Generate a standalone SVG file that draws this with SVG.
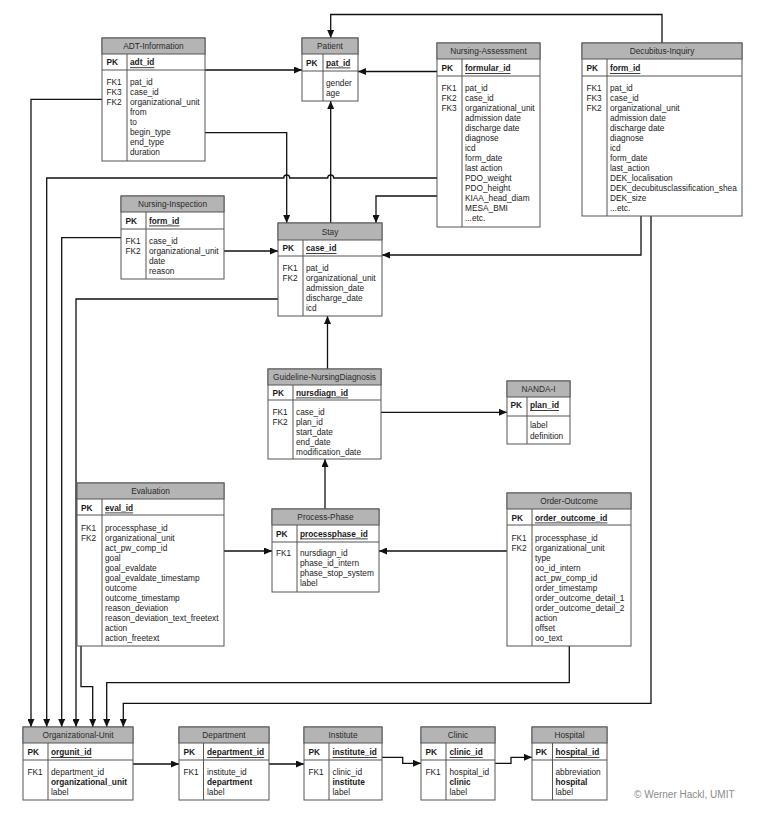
<svg xmlns="http://www.w3.org/2000/svg" width="767" height="817" viewBox="0 0 767 817">
<style>
.bg{fill:#fff}
.box{fill:#fff;stroke:#555;stroke-width:1}
.hd{fill:#b4b4b4;stroke:#555;stroke-width:1}
.sep{fill:none;stroke:#555;stroke-width:1}
text{font-family:"Liberation Sans",Arial,sans-serif;font-size:8.3px;fill:#1a1a1a;dominant-baseline:central}
.h{text-anchor:middle;fill:#2a2a2a}
.b{font-weight:bold}
.u{font-weight:bold;text-decoration:underline}
.c{fill:none;stroke:#111;stroke-width:1.3}
.a{marker-end:url(#ah)}
.cp{font-size:10px;fill:#8a8a8a}
</style>
<defs>
<marker id="ah" viewBox="0 0 8 7" refX="8" refY="3.5" markerWidth="8" markerHeight="7" markerUnits="userSpaceOnUse" orient="auto"><path d="M0,0 L8,3.5 L0,7 z" fill="#111"/></marker>
</defs>
<rect class="bg" x="0" y="0" width="767" height="817"/>

<g id="connectors">
<path class="c a" d="M205,70 H302"/>
<path class="c a" d="M437,71.5 H358"/>
<path class="c a" d="M662,43 V14.5 H330.7 V38"/>
<path class="c a" d="M330.7,223 V101"/>
<path class="c a" d="M205,132.7 H286.7 V223"/>
<path class="c a" d="M437,196 H376 V223"/>
<path class="c a" d="M437,178 H333.7 A3,3 0 0 0 327.7,178 H289.7 A3,3 0 0 0 283.7,178 H46.7 V727"/>
<path class="c a" d="M102,99.3 H31 V727"/>
<path class="c a" d="M121,237.7 H61.7 V727"/>
<path class="c a" d="M224,251 H278"/>
<path class="c a" d="M278,299 H76 V727"/>
<path class="c a" d="M641,216 V255 H382"/>
<path class="c a" d="M651,216 V703.3 H123.3 V727"/>
<path class="c a" d="M327.5,369 V316"/>
<path class="c a" d="M381,412.3 H507"/>
<path class="c a" d="M325,509 V459"/>
<path class="c a" d="M224,551 H272"/>
<path class="c a" d="M507,551 H379"/>
<path class="c a" d="M81,646 V686.7 H92.7 V727"/>
<path class="c a" d="M569.3,646 V682.7 H106.7 V727"/>
<path class="c a" d="M133,764 H179"/>
<path class="c a" d="M269,764 H304"/>
<path class="c a" d="M382,757.3 H402.7 V763.3 H421"/>
<path class="c a" d="M495,763.3 H511 V757.3 H532"/>
</g>

<g id="adt-information">
<rect class="box" x="102" y="38" width="103" height="123"/>
<rect class="hd" x="102" y="38" width="103" height="16"/>
<path class="sep" d="M102,70 H205 M127,54 V161"/>
<text class="h" x="153.5" y="46">ADT-Information</text>
<text class="b" x="106.5" y="62.3">PK</text>
<text class="u" x="130" y="62.3">adt_id</text>
<text x="106.5" y="82.3">FK1<tspan x="106.5" dy="10">FK3</tspan><tspan x="106.5" dy="10">FK2</tspan></text>
<text x="130" y="82.3">pat_id<tspan x="130" dy="10">case_id</tspan><tspan x="130" dy="10">organizational_unit</tspan><tspan x="130" dy="10">from</tspan><tspan x="130" dy="10">to</tspan><tspan x="130" dy="10">begin_type</tspan><tspan x="130" dy="10">end_type</tspan><tspan x="130" dy="10">duration</tspan></text>
</g>

<g id="patient">
<rect class="box" x="302" y="38" width="56" height="63"/>
<rect class="hd" x="302" y="38" width="56" height="16"/>
<path class="sep" d="M302,71 H358 M323,54 V101"/>
<text class="h" x="330" y="46">Patient</text>
<text class="b" x="306" y="62.5">PK</text>
<text class="u" x="326" y="62.5">pat_id</text>
<text x="326" y="83">gender<tspan x="326" dy="10">age</tspan></text>
</g>

<g id="nursing-assessment">
<rect class="box" x="437" y="43" width="103" height="184"/>
<rect class="hd" x="437" y="43" width="103" height="16"/>
<path class="sep" d="M437,76 H540 M462,59 V227"/>
<text class="h" x="488.5" y="51">Nursing-Assessment</text>
<text class="b" x="441.5" y="68">PK</text>
<text class="u" x="465" y="68">formular_id</text>
<text x="441.5" y="87.7">FK1<tspan x="441.5" dy="10">FK2</tspan><tspan x="441.5" dy="10">FK3</tspan></text>
<text x="465" y="87.7">pat_id<tspan x="465" dy="10">case_id</tspan><tspan x="465" dy="10">organizational_unit</tspan><tspan x="465" dy="10">admission date</tspan><tspan x="465" dy="10">discharge date</tspan><tspan x="465" dy="10">diagnose</tspan><tspan x="465" dy="10">icd</tspan><tspan x="465" dy="10">form_date</tspan><tspan x="465" dy="10">last action</tspan><tspan x="465" dy="10">PDO_weight</tspan><tspan x="465" dy="10">PDO_height</tspan><tspan x="465" dy="10">KIAA_head_diam</tspan><tspan x="465" dy="10">MESA_BMI</tspan><tspan x="465" dy="10">...etc.</tspan></text>
</g>

<g id="decubitus-inquiry">
<rect class="box" x="582" y="43" width="160" height="173"/>
<rect class="hd" x="582" y="43" width="160" height="16"/>
<path class="sep" d="M582,76 H742 M607,59 V216"/>
<text class="h" x="662" y="51">Decubitus-Inquiry</text>
<text class="b" x="586.5" y="68">PK</text>
<text class="u" x="610" y="68">form_id</text>
<text x="586.5" y="87.7">FK1<tspan x="586.5" dy="10">FK3</tspan><tspan x="586.5" dy="10">FK2</tspan></text>
<text x="610" y="87.7">pat_id<tspan x="610" dy="10">case_id</tspan><tspan x="610" dy="10">organizational_unit</tspan><tspan x="610" dy="10">admission date</tspan><tspan x="610" dy="10">discharge date</tspan><tspan x="610" dy="10">diagnose</tspan><tspan x="610" dy="10">icd</tspan><tspan x="610" dy="10">form_date</tspan><tspan x="610" dy="10">last_action</tspan><tspan x="610" dy="10">DEK_localisation</tspan><tspan x="610" dy="10">DEK_decubitusclassification_shea</tspan><tspan x="610" dy="10">DEK_size</tspan><tspan x="610" dy="10">...etc.</tspan></text>
</g>

<g id="nursing-inspection">
<rect class="box" x="121" y="196" width="103" height="83"/>
<rect class="hd" x="121" y="196" width="103" height="16"/>
<path class="sep" d="M121,229 H224 M146,212 V279"/>
<text class="h" x="172.5" y="204">Nursing-Inspection</text>
<text class="b" x="125.5" y="220.5">PK</text>
<text class="u" x="149" y="220.5">form_id</text>
<text x="125.5" y="241">FK1<tspan x="125.5" dy="10">FK2</tspan></text>
<text x="149" y="241">case_id<tspan x="149" dy="10">organizational_unit</tspan><tspan x="149" dy="10">date</tspan><tspan x="149" dy="10">reason</tspan></text>
</g>

<g id="stay">
<rect class="box" x="278" y="223" width="104" height="93"/>
<rect class="hd" x="278" y="223" width="104" height="17"/>
<path class="sep" d="M278,256 H382 M303,240 V316"/>
<text class="h" x="330" y="231.5">Stay</text>
<text class="b" x="282.5" y="248">PK</text>
<text class="u" x="306" y="248">case_id</text>
<text x="282.5" y="268.3">FK1<tspan x="282.5" dy="10">FK2</tspan></text>
<text x="306" y="268.3">pat_id<tspan x="306" dy="10">organizational_unit</tspan><tspan x="306" dy="10">admission_date</tspan><tspan x="306" dy="10">discharge_date</tspan><tspan x="306" dy="10">icd</tspan></text>
</g>

<g id="guideline-nursingdiagnosis">
<rect class="box" x="268" y="369" width="113" height="90"/>
<rect class="hd" x="268" y="369" width="113" height="16"/>
<path class="sep" d="M268,400 H381 M293,385 V459"/>
<text class="h" x="324.5" y="377">Guideline-NursingDiagnosis</text>
<text class="b" x="272.5" y="392.5">PK</text>
<text class="u" x="296" y="392.5">nursdiagn_id</text>
<text x="272.5" y="411.7">FK1<tspan x="272.5" dy="10">FK2</tspan></text>
<text x="296" y="411.7">case_id<tspan x="296" dy="10">plan_id</tspan><tspan x="296" dy="10">start_date</tspan><tspan x="296" dy="10">end_date</tspan><tspan x="296" dy="10">modification_date</tspan></text>
</g>

<g id="nanda-i">
<rect class="box" x="507" y="381" width="63" height="63"/>
<rect class="hd" x="507" y="381" width="63" height="16"/>
<path class="sep" d="M507,416 H570 M527,397 V444"/>
<text class="h" x="538.5" y="389">NANDA-I</text>
<text class="b" x="510.5" y="405">PK</text>
<text class="u" x="530" y="405">plan_id</text>
<text x="530" y="425">label<tspan x="530" dy="10.5">definition</tspan></text>
</g>

<g id="evaluation">
<rect class="box" x="77" y="483" width="147" height="163"/>
<rect class="hd" x="77" y="483" width="147" height="16"/>
<path class="sep" d="M77,515 H224 M102,499 V646"/>
<text class="h" x="150.5" y="491">Evaluation</text>
<text class="b" x="81" y="507.5">PK</text>
<text class="u" x="105" y="507.5">eval_id</text>
<text x="81" y="527.7">FK1<tspan x="81" dy="10">FK2</tspan></text>
<text x="105" y="527.7">processphase_id<tspan x="105" dy="10">organizational_unit</tspan><tspan x="105" dy="10">act_pw_comp_id</tspan><tspan x="105" dy="10">goal</tspan><tspan x="105" dy="10">goal_evaldate</tspan><tspan x="105" dy="10">goal_evaldate_timestamp</tspan><tspan x="105" dy="10">outcome</tspan><tspan x="105" dy="10">outcome_timestamp</tspan><tspan x="105" dy="10">reason_deviation</tspan><tspan x="105" dy="10">reason_deviation_text_freetext</tspan><tspan x="105" dy="10">action</tspan><tspan x="105" dy="10">action_freetext</tspan></text>
</g>

<g id="process-phase">
<rect class="box" x="272" y="509" width="107" height="83"/>
<rect class="hd" x="272" y="509" width="107" height="16"/>
<path class="sep" d="M272,542 H379 M297,525 V592"/>
<text class="h" x="325.5" y="517">Process-Phase</text>
<text class="b" x="276" y="533.5">PK</text>
<text class="u" x="300" y="533.5">processphase_id</text>
<text x="276" y="553.3">FK1</text>
<text x="300" y="553.3">nursdiagn_id<tspan x="300" dy="10">phase_id_intern</tspan><tspan x="300" dy="10">phase_stop_system</tspan><tspan x="300" dy="10">label</tspan></text>
</g>

<g id="order-outcome">
<rect class="box" x="507" y="493" width="124" height="153"/>
<rect class="hd" x="507" y="493" width="124" height="16"/>
<path class="sep" d="M507,525 H631 M532,509 V646"/>
<text class="h" x="569" y="501">Order-Outcome</text>
<text class="b" x="511.5" y="517.5">PK</text>
<text class="u" x="535" y="517.5">order_outcome_id</text>
<text x="511.5" y="537.7">FK1<tspan x="511.5" dy="10">FK2</tspan></text>
<text x="535" y="537.7">processphase_id<tspan x="535" dy="10">organizational_unit</tspan><tspan x="535" dy="10">type</tspan><tspan x="535" dy="10">oo_id_intern</tspan><tspan x="535" dy="10">act_pw_comp_id</tspan><tspan x="535" dy="10">order_timestamp</tspan><tspan x="535" dy="10">order_outcome_detail_1</tspan><tspan x="535" dy="10">order_outcome_detail_2</tspan><tspan x="535" dy="10">action</tspan><tspan x="535" dy="10">offset</tspan><tspan x="535" dy="10">oo_text</tspan></text>
</g>

<g id="organizational-unit">
<rect class="box" x="23" y="727" width="110" height="73"/>
<rect class="hd" x="23" y="727" width="110" height="16"/>
<path class="sep" d="M23,760 H133 M48,743 V800"/>
<text class="h" x="78" y="735">Organizational-Unit</text>
<text class="b" x="27.5" y="752">PK</text>
<text class="u" x="51" y="752">orgunit_id</text>
<text x="27.5" y="772.3">FK1</text>
<text x="51" y="772.3">department_id<tspan x="51" dy="10" class="b">organizational_unit</tspan><tspan x="51" dy="10">label</tspan></text>
</g>

<g id="department">
<rect class="box" x="179" y="727" width="90" height="73"/>
<rect class="hd" x="179" y="727" width="90" height="16"/>
<path class="sep" d="M179,760 H269 M203.5,743 V800"/>
<text class="h" x="224" y="735">Department</text>
<text class="b" x="183.5" y="752">PK</text>
<text class="u" x="207" y="752">department_id</text>
<text x="183.5" y="772.3">FK1</text>
<text x="207" y="772.3">institute_id<tspan x="207" dy="10" class="b">department</tspan><tspan x="207" dy="10">label</tspan></text>
</g>

<g id="institute">
<rect class="box" x="304" y="727" width="78" height="73"/>
<rect class="hd" x="304" y="727" width="78" height="16"/>
<path class="sep" d="M304,760 H382 M329,743 V800"/>
<text class="h" x="343" y="735">Institute</text>
<text class="b" x="308.5" y="752">PK</text>
<text class="u" x="332.5" y="752">institute_id</text>
<text x="308.5" y="772.3">FK1</text>
<text x="332.5" y="772.3">clinic_id<tspan x="332.5" dy="10" class="b">institute</tspan><tspan x="332.5" dy="10">label</tspan></text>
</g>

<g id="clinic">
<rect class="box" x="421" y="727" width="74" height="73"/>
<rect class="hd" x="421" y="727" width="74" height="16"/>
<path class="sep" d="M421,760 H495 M446,743 V800"/>
<text class="h" x="458" y="735">Clinic</text>
<text class="b" x="425.5" y="752">PK</text>
<text class="u" x="449.5" y="752">clinic_id</text>
<text x="425.5" y="772.3">FK1</text>
<text x="449.5" y="772.3">hospital_id<tspan x="449.5" dy="10" class="b">clinic</tspan><tspan x="449.5" dy="10">label</tspan></text>
</g>

<g id="hospital">
<rect class="box" x="532" y="727" width="75" height="73"/>
<rect class="hd" x="532" y="727" width="75" height="16"/>
<path class="sep" d="M532,760 H607 M552.5,743 V800"/>
<text class="h" x="569.5" y="735">Hospital</text>
<text class="b" x="535.5" y="752">PK</text>
<text class="u" x="555.5" y="752">hospital_id</text>
<text x="555.5" y="772.3">abbreviation<tspan x="555.5" dy="10" class="b">hospital</tspan><tspan x="555.5" dy="10">label</tspan></text>
</g>

<text class="cp" x="634" y="794">© Werner Hackl, UMIT</text>
</svg>
